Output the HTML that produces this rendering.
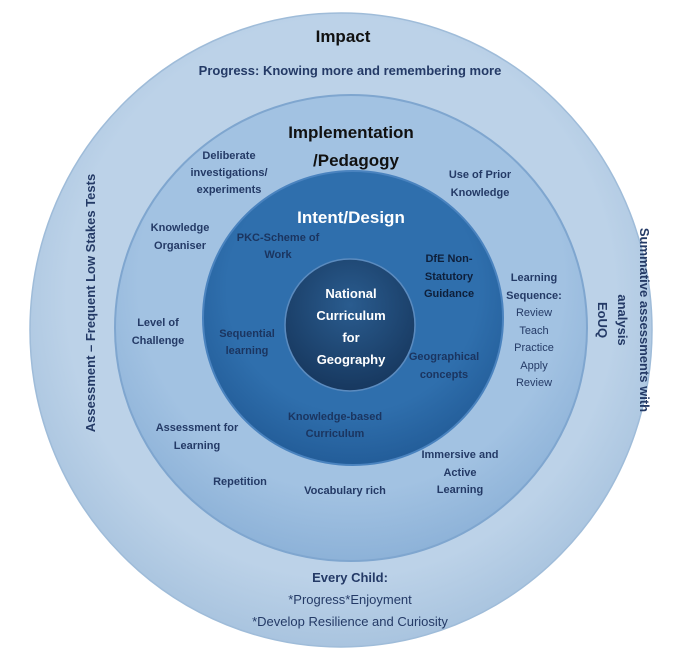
<!DOCTYPE html>
<html><head><style>
body{margin:0;background:#fff;width:681px;height:665px;overflow:hidden}
svg text{font-family:"Liberation Sans",sans-serif;font-weight:bold;fill:#243a66;text-anchor:middle}
svg text.w{fill:#fff}
svg text.d{fill:#0e1f3a}
svg text.m{fill:#1b3560}
svg text.k{fill:#111}
svg text.n{font-weight:normal}
</style></head><body>
<svg width="681" height="665" viewBox="0 0 681 665">
<defs>
<radialGradient id="g1" cx="0.5" cy="0.45" r="0.55"><stop offset="0.8" stop-color="#bcd2e8"/><stop offset="1" stop-color="#a9c4df"/></radialGradient>
<radialGradient id="g2" cx="0.5" cy="0.4" r="0.6"><stop offset="0.75" stop-color="#a2c2e2"/><stop offset="1" stop-color="#8db2d8"/></radialGradient>
<radialGradient id="g3" cx="0.5" cy="0.4" r="0.6"><stop offset="0.7" stop-color="#2f6fad"/><stop offset="1" stop-color="#235d99"/></radialGradient>
<radialGradient id="g4" cx="0.5" cy="0.35" r="0.65"><stop offset="0" stop-color="#2a5c8f"/><stop offset="1" stop-color="#17385f"/></radialGradient>
</defs>
<ellipse cx="341" cy="330" rx="311" ry="317" fill="url(#g1)" stroke="#9fbcd9" stroke-width="1.5"/>
<ellipse cx="351" cy="328" rx="236" ry="233" fill="url(#g2)" stroke="#7fa6cf" stroke-width="2"/>
<ellipse cx="353" cy="318" rx="150" ry="147" fill="url(#g3)" stroke="#4a83bf" stroke-width="2"/>
<ellipse cx="350" cy="325" rx="65" ry="66" fill="url(#g4)" stroke="#5b8bbf" stroke-width="1.5"/>

<text class="k" x="343" y="42" font-size="17">Impact</text>
<text x="350" y="75" font-size="13">Progress: Knowing more and remembering more</text>
<text class="k" x="351" y="138" font-size="17">Implementation</text>
<text class="k" x="356" y="166" font-size="17">/Pedagogy</text>
<text class="w" x="351" y="223" font-size="17">Intent/Design</text>

<g font-size="11">
<text x="229" y="159">Deliberate</text><text x="229" y="176">investigations/</text><text x="229" y="193">experiments</text>
<text x="480" y="178">Use of Prior</text><text x="480" y="196">Knowledge</text>
<text x="180" y="231">Knowledge</text><text x="180" y="249">Organiser</text>
<text x="158" y="326">Level of</text><text x="158" y="344">Challenge</text>
<text x="534" y="281">Learning</text><text x="534" y="299">Sequence:</text>
<text class="n" x="534" y="316">Review</text><text class="n" x="534" y="334">Teach</text>
<text class="n" x="534" y="351">Practice</text><text class="n" x="534" y="369">Apply</text>
<text class="n" x="534" y="386">Review</text>
<text x="197" y="431">Assessment for</text><text x="197" y="449">Learning</text>
<text x="240" y="485">Repetition</text>
<text x="345" y="494">Vocabulary rich</text>
<text x="460" y="458">Immersive and</text><text x="460" y="476">Active</text><text x="460" y="493">Learning</text>
</g>
<g font-size="11">
<text class="m" x="278" y="241">PKC-Scheme of</text><text class="m" x="278" y="258">Work</text>
<text class="d" x="449" y="262">DfE Non-</text><text class="d" x="449" y="280">Statutory</text><text class="d" x="449" y="297">Guidance</text>
<text class="m" x="247" y="337">Sequential</text><text class="m" x="247" y="354">learning</text>
<text class="m" x="444" y="360">Geographical</text><text class="m" x="444" y="378">concepts</text>
<text class="m" x="335" y="420">Knowledge-based</text><text class="m" x="335" y="437">Curriculum</text>
</g>
<g font-size="13">
<text class="w" x="351" y="298">National</text><text class="w" x="351" y="320">Curriculum</text>
<text class="w" x="351" y="342">for</text><text class="w" x="351" y="364">Geography</text>
</g>
<text font-size="13" transform="translate(95,303) rotate(-90)">Assessment – Frequent Low Stakes Tests</text>
<text font-size="13" transform="translate(640,320) rotate(90)">Summative assessments with</text>
<text font-size="13" transform="translate(618,320) rotate(90)">analysis</text>
<text font-size="13" transform="translate(598,320) rotate(90)">EoUQ</text>
<text x="350" y="582" font-size="13">Every Child:</text>
<text class="n" x="350" y="604" font-size="13">*Progress*Enjoyment</text>
<text class="n" x="350" y="626" font-size="13">*Develop Resilience and Curiosity</text>
</svg>
</body></html>
